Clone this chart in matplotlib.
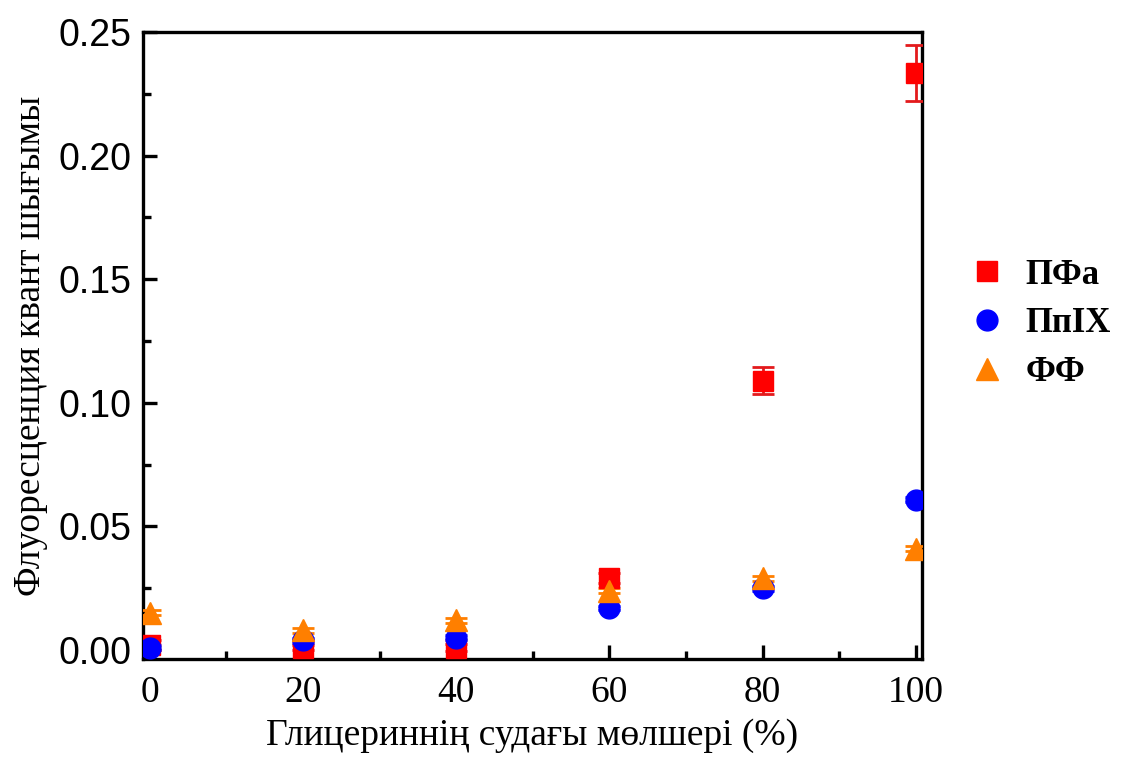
import numpy as np
import matplotlib
matplotlib.use('Agg')
import matplotlib.pyplot as plt
from matplotlib.ticker import MultipleLocator, FormatStrFormatter

serif = ['Liberation Serif', 'DejaVu Serif']
sans = ['Liberation Sans', 'DejaVu Sans']

glycerol = [0, 20, 40, 60, 80, 100]

pfa = [0.002, 0.001, 0.001, 0.029, 0.109, 0.2334]
pfa_err = [0.002, 0.001, 0.0015, 0.002, 0.0053, 0.0115]

ppix = [0.001, 0.004, 0.005, 0.017, 0.025, 0.0607]
ppix_err = [0.001, 0.001, 0.001, 0.001, 0.001, 0.001]

ff = [0.015, 0.008, 0.012, 0.024, 0.029, 0.041]
ff_err = [0.001, 0.001, 0.001, 0.001, 0.001, 0.001]

series = [
    ('ПФа', pfa, pfa_err, 's', '#ff0000', '#e31a1c', 14),
    ('ПпIX', ppix, ppix_err, 'o', '#0000ff', '#0000ff', 15),
    ('ФФ', ff, ff_err, '^', '#ff7f00', '#ff7f00', 16),
]

fig = plt.figure(figsize=(11.25, 7.6), dpi=100)
ax = fig.add_axes([0.127, 0.133, 0.6926, 0.825])

handles = []
for name, y, err, m, col, ecol, ms in series:
    h = ax.errorbar(glycerol, y, yerr=err, fmt=m, color=col, ecolor=ecol,
                    markersize=ms, markeredgecolor=col, elinewidth=2,
                    capsize=8, capthick=2, label=name, zorder=3)
    handles.append(h[0])

ax.set_xlim(-0.9, 100.8)
ax.set_ylim(-0.0036, 0.25)
ax.xaxis.set_major_locator(MultipleLocator(20))
ax.xaxis.set_minor_locator(MultipleLocator(10))
ax.yaxis.set_major_locator(MultipleLocator(0.05))
ax.yaxis.set_minor_locator(MultipleLocator(0.025))
ax.yaxis.set_major_formatter(FormatStrFormatter('%.2f'))

for s in ax.spines.values():
    s.set_linewidth(2.4)
ax.tick_params(which='major', direction='in', length=10, width=2.4, pad=8)
ax.tick_params(which='minor', direction='in', length=6, width=2.4)
ax.tick_params(axis='y', labelsize=27)
ax.tick_params(axis='x', labelsize=27, pad=12)
for lbl in ax.get_xticklabels():
    lbl.set_family(serif)
for lbl in ax.get_yticklabels():
    lbl.set_family(sans)

ax.set_xlabel('Глицериннің судағы мөлшері (%)', fontsize=27, family=serif, labelpad=6)
ax.set_ylabel('Флуоресценция квант шығымы', fontsize=27, family=serif, labelpad=8)

fig.legend(handles=handles, labels=[s[0] for s in series], loc='center left',
           bbox_to_anchor=(0.862, 0.574), frameon=False, borderpad=0,
           borderaxespad=0, handletextpad=0.6, labelspacing=0.45,
           prop={'family': serif, 'weight': 'bold', 'size': 25},
           markerscale=1.0, handlelength=1.0)

fig.savefig('out.png', dpi=100)
